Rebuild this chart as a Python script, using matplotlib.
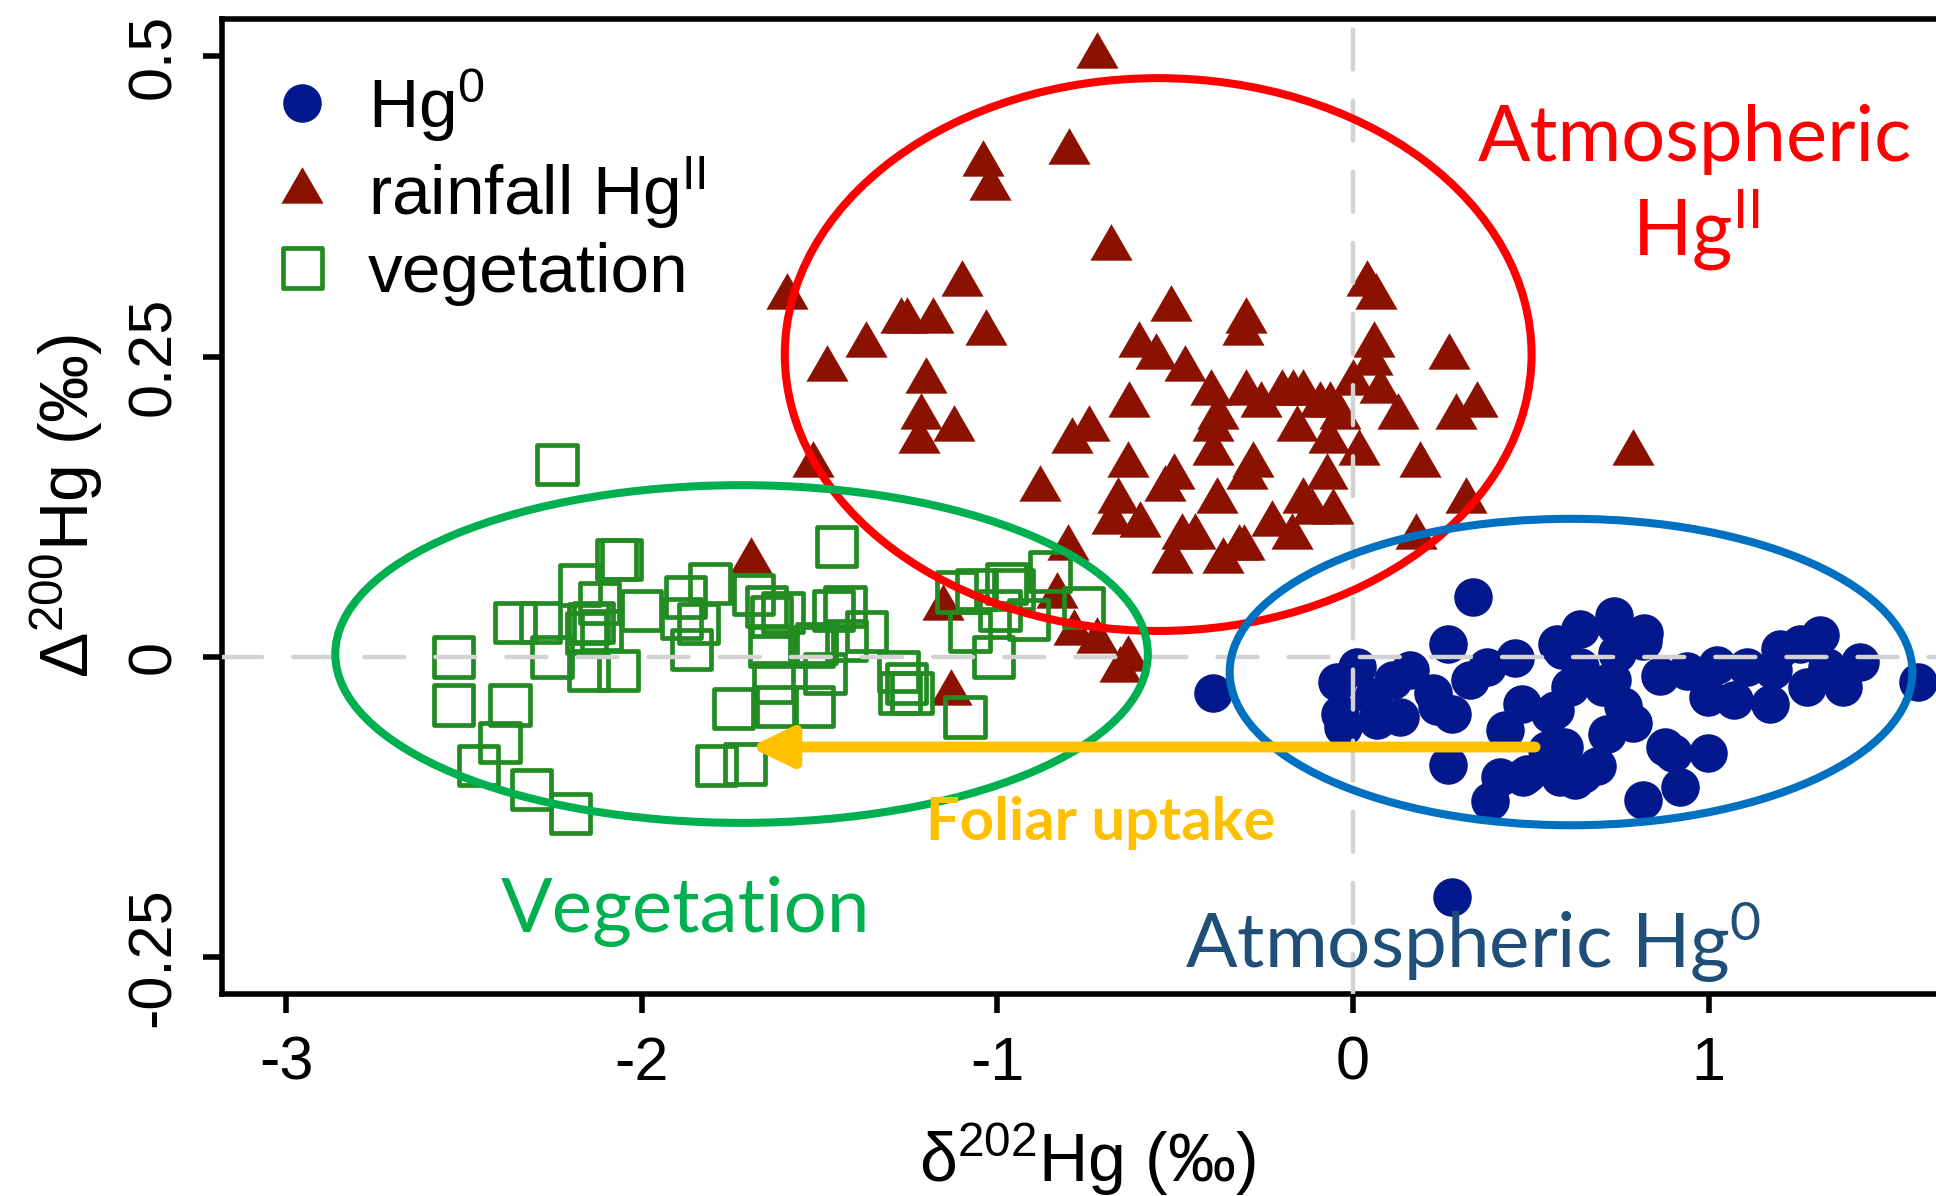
import matplotlib
matplotlib.use('Agg')
import matplotlib.pyplot as plt
from matplotlib.patches import Ellipse

plt.rcParams['font.family'] = ['Liberation Sans', 'DejaVu Sans']
plt.rcParams['axes.unicode_minus'] = False

# gaseous elemental Hg(0)
hg0_x = [0.338, -0.393, 0.278, 0.268, 0.010, -0.046, -0.027, 0.076, 0.132, 0.160,
         0.113, 0.057, 0.226, 0.235, 0.329, 0.376, 0.456, 0.268, 0.474, 0.427,
         0.413, 0.385, 0.479, 0.545, 0.573, 0.554, 0.638, 0.737, 0.816, 0.587,
         0.610, 0.568, 0.704, 0.788, 0.713, 0.648, 0.582, 0.685, 0.816, 0.901,
         0.920, 0.999, 0.863, 0.938, 0.999, 1.070, 1.023, 1.107, 1.182, 1.173,
         1.201, 1.257, 1.313, 1.332, 1.276, 1.379, 1.426, 1.590, 0.742, 0.760,
         -0.036, 0.068, 0.279, 0.877, 0.593, 0.623, 0.488, 0.728, 0.638, 0.818,
         0.735]
hg0_y = [0.050, -0.030, -0.200, 0.011, -0.008, -0.021, -0.058, -0.050, -0.050, -0.011,
         -0.019, -0.033, -0.030, -0.041, -0.019, -0.008, -0.001, -0.090, -0.039, -0.061,
         -0.100, -0.120, -0.100, -0.077, 0.011, -0.047, 0.023, 0.027, 0.013, 0.006,
         -0.025, -0.044, -0.025, -0.055, -0.064, -0.097, -0.100, -0.091, -0.119, -0.080,
         -0.108, -0.080, -0.016, -0.012, -0.033, -0.036, -0.007, -0.008, -0.011, -0.039,
         0.007, 0.011, 0.018, -0.008, -0.025, -0.025, -0.004, -0.021, 0.003, -0.041,
         -0.047, -0.052, -0.047, -0.075, -0.075, -0.102, -0.097, -0.019, -0.008, 0.020,
         0.034]

# rainfall Hg(II)
rain_x = [-0.721, -0.800, -1.040, -1.021, -0.681, -1.100, -1.591, -1.270, -1.253, -1.182,
          -1.032, -1.370, -1.479, -1.201, -0.511, -0.301, -0.310, 0.039, 0.065, -0.601,
          -0.555, -0.473, 0.059, 0.053, 0.270, -0.631, -1.214, -1.121, -1.220, -1.520,
          -0.400, -0.379, -0.393, -0.393, -0.791, -0.742, -0.632, -0.503, -0.529, -0.880,
          -0.660, -0.383, -0.679, -0.599, -0.482, -0.444, -0.510, -0.365, -0.322, -0.801,
          -0.832, -1.152, -0.785, -0.721, -0.632, -0.655, -1.131, -1.693, 0.001, 0.076,
          0.127, 0.018, 0.188, 0.348, 0.290, 0.318, 0.177, 0.788, -0.300, -0.258,
          -0.200, -0.170, -0.142, -0.092, -0.064, -0.036, -0.158, -0.069, -0.280, -0.299,
          -0.072, -0.140, -0.055, -0.116, -0.229, -0.172, -0.308]
rain_y = [0.500, 0.420, 0.410, 0.390, 0.340, 0.310, 0.300, 0.280, 0.280, 0.280,
          0.270, 0.260, 0.240, 0.230, 0.290, 0.280, 0.270, 0.310, 0.300, 0.260,
          0.250, 0.240, 0.260, 0.245, 0.250, 0.210, 0.200, 0.190, 0.180, 0.160,
          0.220, 0.200, 0.190, 0.170, 0.180, 0.190, 0.160, 0.150, 0.140, 0.140,
          0.130, 0.130, 0.112, 0.110, 0.100, 0.100, 0.080, 0.080, 0.091, 0.091,
          0.051, 0.041, 0.020, 0.013, -0.002, -0.011, -0.030, 0.080, 0.228, 0.221,
          0.200, 0.170, 0.160, 0.210, 0.200, 0.130, 0.100, 0.170, 0.220, 0.210,
          0.220, 0.220, 0.220, 0.210, 0.210, 0.200, 0.190, 0.180, 0.160, 0.150,
          0.150, 0.130, 0.121, 0.121, 0.111, 0.100, 0.091]

# vegetation
veg_x = [-2.239, -2.530, -2.530, -2.371, -2.399, -2.460, -2.310, -2.200, -2.357, -2.286,
         -2.253, -2.174, -2.071, -2.057, -2.150, -2.136, -2.155, -2.113, -2.150, -2.066,
         -2.000, -1.878, -1.808, -1.888, -1.860, -1.686, -1.649, -1.635, -1.640, -1.743,
         -1.621, -1.518, -1.630, -1.518, -1.452, -1.791, -1.710, -1.462, -1.429, -1.368,
         -1.424, -1.485, -1.279, -1.255, -1.240, -1.274, -1.091, -1.115, -1.058, -1.077,
         -1.012, -0.974, -0.955, -0.913, -0.852, -0.758, -0.993, -1.508, -1.603, -2.120,
         -1.840]
veg_y = [0.160, 0.000, -0.040, -0.040, -0.071, -0.090, -0.110, -0.130, 0.029, 0.029,
         0.000, 0.060, 0.081, 0.081, 0.028, 0.029, 0.020, 0.022, -0.011, -0.011,
         0.039, 0.050, 0.061, 0.032, 0.006, 0.052, 0.042, 0.034, 0.009, -0.043,
         -0.041, -0.041, -0.021, 0.009, 0.092, -0.090, -0.089, 0.039, 0.042, 0.021,
         0.014, -0.014, -0.012, -0.022, -0.030, -0.030, -0.050, 0.054, 0.056, 0.021,
         0.000, 0.061, 0.056, 0.031, 0.071, 0.041, 0.039, 0.011, 0.037, 0.045,
         0.028]

x_ticks = [-3, -2, -1, 0, 1]
x_tick_labels = ['-3', '-2', '-1', '0', '1']
y_ticks = [-0.25, 0, 0.25, 0.5]
y_tick_labels = ['-0.25', '0', '0.25', '0.5']

# equilateral triangle centred on its centroid (R pch 17)
tri = [(0, 0.5774), (-0.5, -0.2887), (0.5, -0.2887)]

fig = plt.figure(figsize=(19.36, 11.96), dpi=100)
ax = fig.add_axes([0.1147, 0.1689, 0.8936, 0.8156])

ax.scatter(hg0_x, hg0_y, s=770, marker='o', color='#03188C', linewidths=0,
           zorder=3, label='Hg$\\mathregular{^0}$')
ax.scatter(rain_x, rain_y, s=1230, marker=tri, color='#8B1100', linewidths=0,
           zorder=3, label='rainfall Hg$\\mathregular{^{II}}$')
ax.scatter(veg_x, veg_y, s=800, marker='s', facecolors='none', edgecolors='#228B22',
           linewidths=3.4, zorder=3, label='vegetation')

# reference lines at zero
for line in (ax.axhline(0, color='#D3D3D3', lw=3.2, zorder=4),
             ax.axvline(0, color='#D3D3D3', lw=3.2, zorder=4)):
    line.set_dashes([9, 7])
    line.set_dash_capstyle('round')

ax.set_xlim(-3.1805, 1.6845)
ax.set_ylim(-0.2804, 0.5313)
ax.set_xticks(x_ticks)
ax.set_xticklabels(x_tick_labels)
ax.set_yticks(y_ticks)
ax.set_yticklabels(y_tick_labels)
for side in ('left', 'bottom', 'top'):
    ax.spines[side].set_linewidth(4)
ax.spines['right'].set_visible(False)
ax.tick_params(axis='both', length=14, width=4, labelsize=44)
ax.tick_params(axis='x', pad=16)
ax.tick_params(axis='y', pad=14)
plt.setp(ax.get_yticklabels(), rotation=90, va='center')

ax.set_xlabel('δ$\\mathregular{^{202}}$Hg (‰)', fontsize=49)
ax.xaxis.label.set_va('baseline')
ax.xaxis.set_label_coords(0.5, -0.1927)
ax.set_ylabel('Δ$\\mathregular{^{200}}$Hg (‰)', fontsize=49)
ax.yaxis.label.set_va('center')
ax.yaxis.set_label_coords(-0.090, 0.5)

ax.legend(loc='upper left', bbox_to_anchor=(0.1383, 0.944), bbox_transform=fig.transFigure,
          frameon=False, fontsize=50, borderpad=0, borderaxespad=0,
          handlelength=1.0, handletextpad=0.44, labelspacing=0.16,
          scatterpoints=1, scatteryoffsets=[0.5])

# source regions
ax.add_patch(Ellipse((-0.548, 0.2517), 2.10, 0.460, fill=False, ec='#FF0000', lw=5.8, zorder=5))
ax.add_patch(Ellipse((-1.7196, 0.0025), 2.285, 0.281, fill=False, ec='#00B050', lw=5.8, zorder=5))
ax.add_patch(Ellipse((0.613, -0.0125), 1.92, 0.255, fill=False, ec='#0070C0', lw=5.8, zorder=5))

ax.annotate('', xy=(-1.696, -0.0749), xytext=(0.512, -0.0749),
            arrowprops=dict(arrowstyle='-|>,head_length=24.8,head_width=12',
                            mutation_scale=1, lw=7.8, color='#FFC000',
                            shrinkA=0, shrinkB=0), zorder=6)

ax.text(-0.711, -0.152, 'Foliar uptake', color='#FFC000', fontsize=43, fontweight='bold',
        family='Lato', ha='center', va='baseline', zorder=6)
ax.text(-1.878, -0.229, 'Vegetation', color='#00B050', fontsize=55,
        family='Lato', ha='center', va='baseline', zorder=6)
ax.text(0.339, -0.259, 'Atmospheric Hg$\\mathregular{^0}$', color='#1F4E79', fontsize=55,
        family='Lato', ha='center', va='baseline', zorder=6)
ax.text(0.962, 0.413, 'Atmospheric', color='#FF0000', fontsize=56,
        family='Lato', ha='center', va='baseline', zorder=6)
ax.text(0.965, 0.334, 'Hg$\\mathregular{^{II}}$', color='#FF0000', fontsize=56,
        family='Lato', ha='center', va='baseline', zorder=6)

fig.savefig('out.png', dpi=100)
